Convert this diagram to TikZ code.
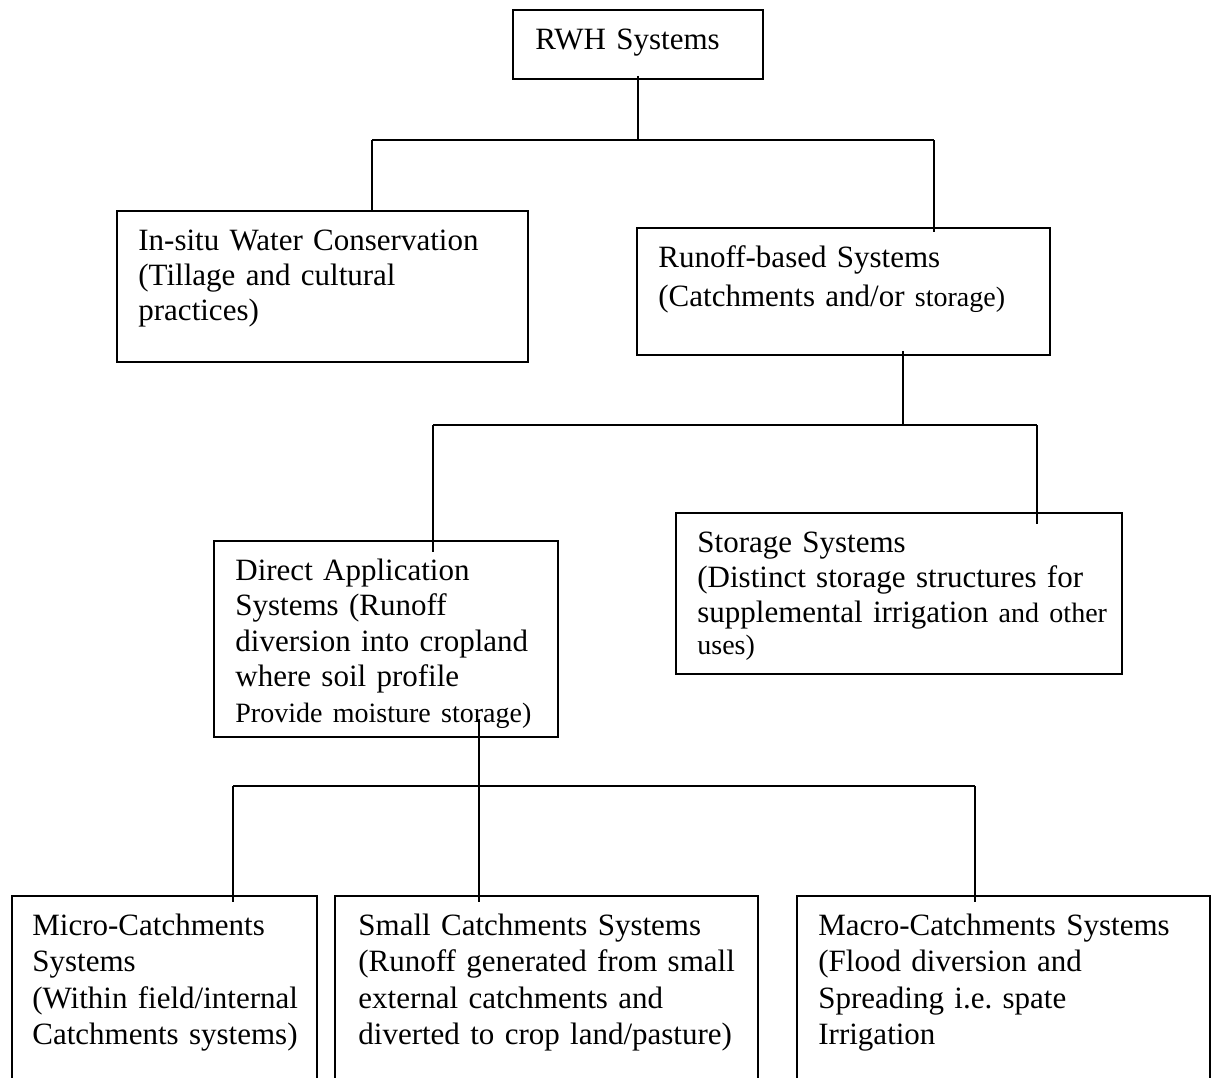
\documentclass[tikz,border=0pt]{standalone}
\usepackage{fontspec}
\setmainfont{Liberation Serif}
\usetikzlibrary{fit}
\frenchspacing
\tikzset{
  box/.style={draw, line width=0.9pt, inner sep=0pt},
  txt/.style={anchor=base west, inner sep=0pt, align=left, text width=#1,
              font=\fontsize{15.5}{17.75}\selectfont\frenchspacing},
  link/.style={line width=0.9pt},
}
\newcommand{\smtxt}[1]{{\fontsize{14}{17.75}\selectfont #1}}
\begin{document}
\begin{tikzpicture}[x=0.5pt,y=-0.5pt]
\useasboundingbox (0,0) rectangle (1215,1077);
\clip (0,0) rectangle (1215,1077);
% boxes
\node[box, fit={(513,10) (763,79)}] (rwh) {};
\node[box, fit={(117,211) (528,362)}] (insitu) {};
\node[box, fit={(637,228) (1050,355)}] (runoff) {};
\node[box, fit={(214,541) (558,737)}] (direct) {};
\node[box, fit={(676,513) (1122,674)}] (storage) {};
\node[box, fit={(12,896) (317,1110)}] (micro) {};
\node[box, fit={(335,896) (758,1110)}] (small) {};
\node[box, fit={(797,896) (1210,1110)}] (macro) {};
% texts
\node[txt=120pt] (rwht) at (535,49) {RWH Systems};
\node[txt=190pt, font=\fontsize{15.5}{17.5}\selectfont\frenchspacing] (insitut) at (138,250)
  {In-situ Water Conservation\\(Tillage and cultural\\practices)};
\node[txt=190pt, font=\fontsize{15.5}{19.5}\selectfont\frenchspacing] (runofft) at (658,267)
  {Runoff-based Systems\\(Catchments and/or \smtxt{storage)}};
\node[txt=165pt, font=\fontsize{15.5}{17.75}\selectfont\frenchspacing] (directt) at (235,580)
  {Direct Application\\Systems (Runoff\\diversion into cropland\\where soil profile\\\smtxt{Provide moisture storage)}};
\node[txt=210pt, font=\fontsize{15.5}{17.5}\selectfont\frenchspacing] (storaget) at (697,552)
  {Storage Systems\\(Distinct storage structures for\\supplemental irrigation \smtxt{and other}\\[-1.5pt]\smtxt{uses)}};
\node[txt=145pt, font=\fontsize{15.5}{18.25}\selectfont\frenchspacing] (microt) at (32,935)
  {Micro-Catchments\\Systems\\(Within field/internal\\Catchments systems)};
\node[txt=200pt, font=\fontsize{15.5}{18.25}\selectfont\frenchspacing] (smallt) at (358,935)
  {Small Catchments Systems\\(Runoff generated from small\\external catchments and\\diverted to crop land/pasture)};
\node[txt=195pt, font=\fontsize{15.5}{18.25}\selectfont\frenchspacing] (macrot) at (818,935)
  {Macro-Catchments Systems\\(Flood diversion and\\Spreading i.e. spate\\Irrigation};
% junction points
\coordinate (a1) at (372,140);
\coordinate (a2) at (934,140);
\coordinate (b0) at (903,425);
\coordinate (b1) at (433,425);
\coordinate (b2) at (1037,425);
\coordinate (c0) at (479,786);
\coordinate (c1) at (233,786);
\coordinate (c2) at (975,786);
% connectors
\draw[link] (rwh.south) ++(0,-4) -- (rwh.south |- a1);
\draw[link] (a1) -- (a2);
\draw[link] (a1) -- (a1 |- insitu.north);
\draw[link] (a2) -- (a2 |- runoff.north) -- ++(0,5);
\draw[link] (b0 |- runoff.south) ++(0,-5) -- (b0);
\draw[link] (b1) -- (b2);
\draw[link] (b1) -- (b1 |- direct.north) -- ++(0,12);
\draw[link] (b2) -- (b2 |- storage.north) -- ++(0,12);
\draw[link] (c0 |- direct.south) ++(0,-19) -- (c0 |- small.north) -- ++(0,7);
\draw[link] (c1) -- (c2);
\draw[link] (c1) -- (c1 |- micro.north) -- ++(0,7);
\draw[link] (c2) -- (c2 |- macro.north) -- ++(0,7);
\end{tikzpicture}
\end{document}
